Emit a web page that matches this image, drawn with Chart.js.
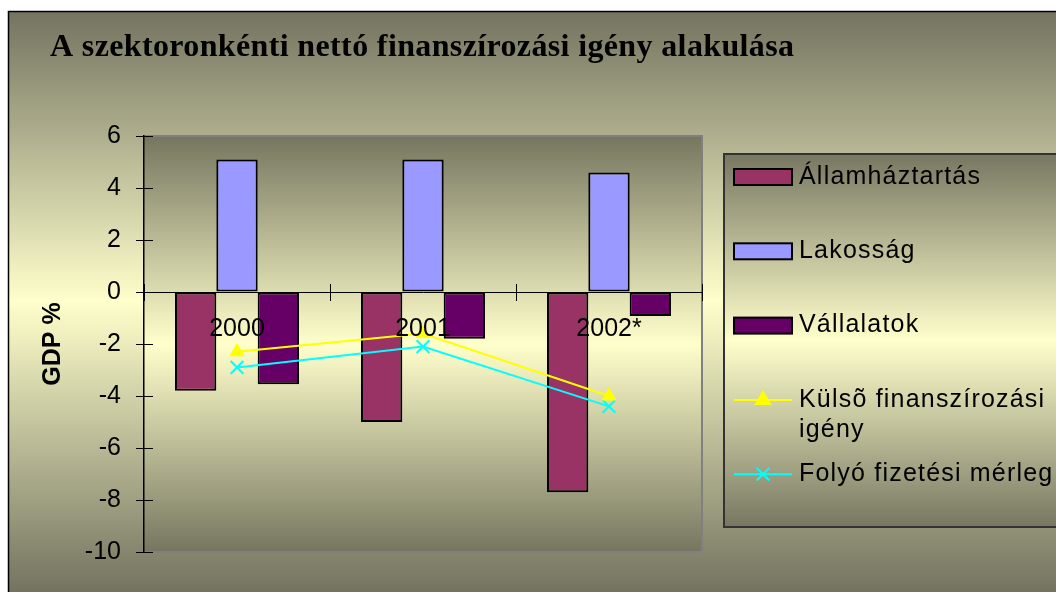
<!DOCTYPE html>
<html>
<head>
<meta charset="utf-8">
<script src="https://cdn.jsdelivr.net/npm/chart.js@4"></script>
<style>
  body { margin: 0; background: #fff; }
</style>
</head>
<body>
<canvas id="gdpChart" width="1056" height="592"></canvas>
<script>
// data (GDP %)
const years = ['2000', '2001', '2002*'];
const allamhaztartas = [-3.8, -5.0, -7.7];
const lakossag = [5.1, 5.1, 4.6];
const vallalatok = [-3.55, -1.8, -0.92];
const kulsoIgeny = [-2.3, -1.6, -4.0];
const folyoMerleg = [-2.9, -2.1, -4.4];
const yTicks = [-10, -8, -6, -4, -2, 0, 2, 4, 6];

const chartTitle = 'A szektoronkénti nettó finanszírozási igény alakulása';

function vGrad(ctx, top, bottom, dark, light) {
    const g = ctx.createLinearGradient(0, top, 0, bottom);
    g.addColorStop(0, dark);
    g.addColorStop(0.5, light);
    g.addColorStop(1, dark);
    return g;
}

// backgrounds, title, plot frame
const backdrop = {
    id: 'backdrop',
    beforeDraw(chart) {
        const ctx = chart.ctx;
        const a = chart.chartArea;
        ctx.save();
        ctx.fillStyle = vGrad(ctx, 11, 592, '#737360', '#ffffcc');
        ctx.fillRect(8, 11, 1048, 581);
        ctx.strokeStyle = '#000';
        ctx.lineWidth = 1.5;
        ctx.beginPath();
        ctx.moveTo(8.5, 592);
        ctx.lineTo(8.5, 11.5);
        ctx.lineTo(1056, 11.5);
        ctx.stroke();

        ctx.fillStyle = vGrad(ctx, a.top, a.bottom, '#767660', '#ffffcc');
        ctx.fillRect(a.left, a.top, a.width, a.height);
        ctx.strokeStyle = '#808080';
        ctx.lineWidth = 2;
        ctx.beginPath();
        ctx.moveTo(a.left, a.top);
        ctx.lineTo(a.right, a.top);
        ctx.lineTo(a.right, a.bottom);
        ctx.lineTo(a.left, a.bottom);
        ctx.stroke();

        // title
        ctx.fillStyle = '#000';
        ctx.font = 'bold 32px "Liberation Serif", "Times New Roman", serif';
        ctx.textBaseline = 'alphabetic';
        ctx.letterSpacing = '0px';
        const natural = ctx.measureText(chartTitle).width;
        ctx.letterSpacing = ((744 - natural) / (chartTitle.length - 1)) + 'px';
        ctx.fillText(chartTitle, 50, 56);
        ctx.restore();
    },
    afterDraw(chart) {
        const ctx = chart.ctx;
        const a = chart.chartArea;
        const xs = chart.scales.x, ys = chart.scales.y;
        ctx.save();
        ctx.strokeStyle = '#000';
        ctx.lineWidth = 1;
        // inner halves of the cross tick marks
        ys.ticks.forEach(t => {
            const y = Math.round(ys.getPixelForValue(t.value)) + 0.5;
            ctx.beginPath();
            ctx.moveTo(a.left, y);
            ctx.lineTo(a.left + 9, y);
            ctx.stroke();
        });
        const zeroY = ys.getPixelForValue(0);
        for (let i = 0; i <= years.length; i++) {
            const x = Math.round(xs.getPixelForValue(i - 0.5)) + 0.5;
            ctx.beginPath();
            ctx.moveTo(x, zeroY - 8);
            ctx.lineTo(x, zeroY);
            ctx.stroke();
        }

        // legend box
        const lx = 724, ly = 154, lh = 373;
        ctx.fillStyle = vGrad(ctx, ly, ly + lh, '#777762', '#ffffcc');
        ctx.fillRect(lx, ly, 1056 - lx, lh);
        ctx.strokeStyle = '#333';
        ctx.lineWidth = 2;
        ctx.strokeRect(lx, ly, 400, lh);

        ctx.font = '25px "Liberation Sans", Arial, sans-serif';
        ctx.letterSpacing = '1.2px';
        ctx.textBaseline = 'middle';
        const textX = 799, maxW = 262;
        chart.data.datasets.forEach((ds, i) => {
            const y = 177 + i * 74.3;
            if (ds.type === 'line') {
                ctx.strokeStyle = ds.borderColor;
                ctx.lineWidth = 2;
                ctx.beginPath();
                ctx.moveTo(734, y);
                ctx.lineTo(792, y);
                ctx.stroke();
                ctx.fillStyle = ds.borderColor;
                Chart.helpers.drawPoint(ctx, {
                    pointStyle: ds.pointStyle, radius: ds.pointRadius,
                    borderWidth: 2, rotation: 0
                }, 763, y);
            } else {
                ctx.fillStyle = ds.backgroundColor;
                ctx.fillRect(734, y - 8, 58, 16);
                ctx.strokeStyle = '#000';
                ctx.lineWidth = 2;
                ctx.strokeRect(734, y - 8, 58, 16);
            }
            // wrap label
            const words = ds.label.split(' ');
            const lines = [];
            let cur = '';
            words.forEach(w => {
                const test = cur ? cur + ' ' + w : w;
                if (cur && ctx.measureText(test).width > maxW) {
                    lines.push(cur);
                    cur = w;
                } else {
                    cur = test;
                }
            });
            lines.push(cur);
            ctx.fillStyle = '#000';
            lines.forEach((ln, k) => ctx.fillText(ln, textX, y + k * 30));
        });
        ctx.restore();
    }
};

const ctx = document.getElementById('gdpChart').getContext('2d');
const chart = new Chart(ctx, {
    type: 'bar',
    data: {
        labels: years,
        datasets: [{
            label: 'Államháztartás',
            data: allamhaztartas,
            backgroundColor: '#993366',
            borderColor: '#000',
            borderWidth: 2,
            borderSkipped: false,
            order: 1
        }, {
            label: 'Lakosság',
            data: lakossag,
            backgroundColor: '#9999ff',
            borderColor: '#000',
            borderWidth: 2,
            borderSkipped: false,
            order: 1
        }, {
            label: 'Vállalatok',
            data: vallalatok,
            backgroundColor: '#660066',
            borderColor: '#000',
            borderWidth: 2,
            borderSkipped: false,
            order: 1
        }, {
            type: 'line',
            label: 'Külsõ finanszírozási igény',
            data: kulsoIgeny,
            borderColor: '#ffff00',
            backgroundColor: '#ffff00',
            borderWidth: 2,
            pointStyle: 'triangle',
            pointRadius: 8,
            pointBorderWidth: 1,
            tension: 0,
            order: 0
        }, {
            type: 'line',
            label: 'Folyó fizetési mérleg',
            data: folyoMerleg,
            borderColor: '#00ffff',
            backgroundColor: '#00ffff',
            borderWidth: 2,
            pointStyle: 'crossRot',
            pointRadius: 9,
            pointBorderWidth: 2,
            tension: 0,
            order: 0
        }]
    },
    options: {
        responsive: false,
        devicePixelRatio: 1,
        animation: false,
        layout: {
            padding: { left: 34, top: 136, right: 354, bottom: 40 }
        },
        datasets: {
            bar: { categoryPercentage: 0.667, barPercentage: 1.0 }
        },
        plugins: {
            legend: { display: false },
            title: { display: false },
            tooltip: { enabled: false }
        },
        scales: {
            x: {
                position: { y: 0 },
                offset: true,
                grid: {
                    offset: true,
                    drawOnChartArea: false,
                    tickLength: 8,
                    color: '#000',
                    lineWidth: 1
                },
                border: { color: '#000', width: 1, z: 1 },
                ticks: {
                    z: 1,
                    color: '#000',
                    padding: 14,
                    maxRotation: 0,
                    font: { family: '"Liberation Sans", Arial, sans-serif', size: 25 }
                }
            },
            y: {
                min: yTicks[0],
                max: yTicks[yTicks.length - 1],
                afterFit(scale) { scale.width = 110; },
                grid: {
                    drawOnChartArea: false,
                    tickLength: 8,
                    color: '#000',
                    lineWidth: 1
                },
                border: { color: '#000', width: 1.5 },
                ticks: {
                    stepSize: 2,
                    color: '#000',
                    padding: 15,
                    font: { family: '"Liberation Sans", Arial, sans-serif', size: 25 }
                },
                title: {
                    display: true,
                    text: 'GDP %',
                    color: '#000',
                    font: { family: '"Liberation Sans", Arial, sans-serif', size: 25, weight: 'bold' }
                }
            }
        }
    },
    plugins: [backdrop]
});
</script>
</body>
</html>
